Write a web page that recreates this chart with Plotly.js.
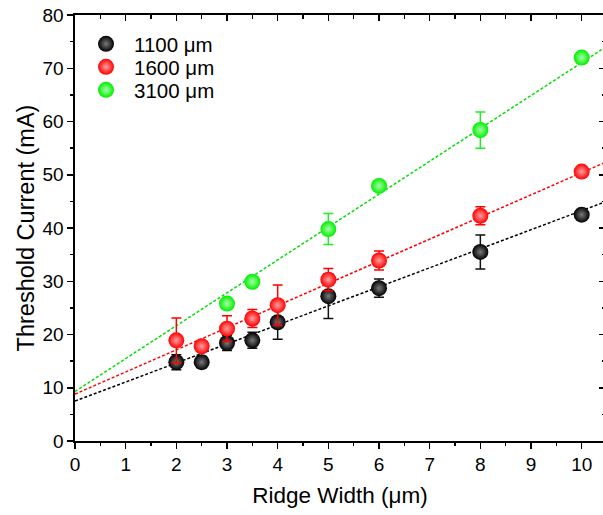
<!DOCTYPE html>
<html>
<head>
<meta charset="utf-8">
<script src="https://cdn.plot.ly/plotly-3.0.1.min.js"></script>
<style>
html,body{margin:0;padding:0;overflow:hidden;background:#fff;}
#chart{width:605px;height:515px;}
</style>
</head>
<body>
<div id="chart"></div>
<script>
// Ridge widths (µm)
const width1100 = [2, 2.5, 3, 3.5, 4, 5, 6, 8, 10];
const current1100 = [14.8, 14.8, 18.4, 18.9, 22.3, 27.2, 28.7, 35.5, 42.5];
const err1100 = [1.4, 1.1, 1.4, 1.5, 3.2, 4.2, 1.7, 3.2, 0.8];

const width1600 = [2, 2.5, 3, 3.5, 4, 5, 6, 8, 10];
const current1600 = [18.9, 17.8, 21.1, 23.0, 25.5, 30.3, 33.9, 42.3, 50.6];
const err1600 = [4.2, 0.8, 2.4, 1.7, 3.8, 2.1, 1.8, 1.7, 0.7];

const width3100 = [3, 3.5, 5, 6, 8, 10];
const current3100 = [25.8, 29.9, 39.8, 47.9, 58.4, 72.0];
const err3100 = [0.5, 0.4, 2.9, 0.4, 3.4, 0.4];

// Linear fit lines, read at the axis ends
const fitX = [0, 10.46];
const fit1100 = [7.5, 44.9];
const fit1600 = [8.8, 52.3];
const fit3100 = [9.3, 73.9];

const labels = ['1100 μm', '1600 μm', '3100 μm'];
const xTicks = [0,1,2,3,4,5,6,7,8,9,10];
const yTicks = [0,10,20,30,40,50,60,70,80];

const FONT = 'Liberation Sans, Arial, sans-serif';

function pts(x, y, e, name, col, grad, ecol, leg) {
  return {
    x: x, y: y, name: name, type: 'scatter', mode: 'markers', legend: leg,
    marker: {size: 16, color: col, line: {width: 0},
             gradient: {type: 'radial', color: grad}},
    error_y: {type: 'data', array: e, visible: true, color: ecol, thickness: 1.5, width: 5},
    showlegend: true
  };
}
function fit(y, col) {
  return {x: fitX, y: y, type: 'scatter', mode: 'lines', showlegend: false,
          line: {color: col, width: 1.5, dash: '3px,2px'}, hoverinfo: 'skip'};
}

const data = [
  fit(fit1100, '#000000'),
  fit(fit1600, '#ff0000'),
  fit(fit3100, '#00e000'),
  pts(width1100, current1100, err1100, labels[0], '#000000', '#7a7a7a', '#111111', 'legend'),
  pts(width1600, current1600, err1600, labels[1], '#ff0000', '#ffa0a0', '#ff0000', 'legend2'),
  pts(width3100, current3100, err3100, labels[2], '#00ee00', '#a8ffa8', '#22ee22', 'legend3')
];

const xRange = [0, 10.46];
const yRange = [0, 80];

function legendAt(yc) {
  return {x: 0.0057, y: yc, xanchor: 'left', yanchor: 'middle',
          font: {family: FONT, size: 20.5, color: '#000'},
          bgcolor: 'rgba(0,0,0,0)', borderwidth: 0, itemwidth: 46};
}

const layout = {
  width: 605, height: 515,
  margin: {l: 75, r: 0, t: 15, b: 74},
  paper_bgcolor: '#fff', plot_bgcolor: '#fff',
  font: {family: FONT, color: '#000', size: 19},
  showlegend: true,
  legend: legendAt(0.932),
  legend2: legendAt(0.878),
  legend3: legendAt(0.824),
  xaxis: {
    range: xRange, tickmode: 'array', tickvals: xTicks, ticktext: xTicks.map(String),
    showgrid: false, zeroline: false, showline: true, linecolor: '#000', linewidth: 1.6,
    ticks: 'outside', ticklen: 6, tickwidth: 1.5, tickcolor: '#000',
    minor: {ticks: 'outside', dtick: 0.5, tick0: 0, ticklen: 3.5, tickwidth: 1.5, tickcolor: '#000', showgrid: false},
    tickfont: {family: FONT, size: 19},
    title: {text: 'Ridge Width (μm)', font: {family: FONT, size: 22.5}, standoff: 13}
  },
  yaxis: {
    range: yRange, tickmode: 'array', tickvals: yTicks, ticktext: yTicks.map(String),
    showgrid: false, zeroline: false, showline: true, linecolor: '#000', linewidth: 1.6,
    ticks: 'outside', ticklen: 6, tickwidth: 1.5, tickcolor: '#000', ticklabelstandoff: -4.5,
    minor: {ticks: 'outside', dtick: 5, tick0: 0, ticklen: 3.5, tickwidth: 1.5, tickcolor: '#000', showgrid: false},
    tickfont: {family: FONT, size: 19},
    title: {text: 'Threshold Current (mA)', font: {family: FONT, size: 23.5}, standoff: 1}
  },
  xaxis2: {
    overlaying: 'x', side: 'top', anchor: 'y', range: xRange,
    tickmode: 'array', tickvals: xTicks, showticklabels: false,
    showgrid: false, zeroline: false, showline: true, linecolor: '#000', linewidth: 1.6,
    ticks: 'inside', ticklen: 6, tickwidth: 1.5, tickcolor: '#000',
    minor: {ticks: 'inside', dtick: 0.5, tick0: 0, ticklen: 3.5, tickwidth: 1.5, tickcolor: '#000'}
  },
  yaxis2: {
    overlaying: 'y', side: 'right', anchor: 'x', range: yRange,
    tickmode: 'array', tickvals: yTicks, showticklabels: false,
    showgrid: false, zeroline: false, showline: true, linecolor: '#000', linewidth: 1.6,
    ticks: 'inside', ticklen: 6, tickwidth: 1.5, tickcolor: '#000',
    minor: {ticks: 'inside', dtick: 5, tick0: 0, ticklen: 3.5, tickwidth: 1.5, tickcolor: '#000'}
  }
};

// invisible trace to activate the mirror axes
data.push({x: [0], y: [0], xaxis: 'x2', yaxis: 'y2', type: 'scatter', mode: 'markers',
           marker: {opacity: 0}, showlegend: false, hoverinfo: 'skip'});

Plotly.newPlot('chart', data, layout, {staticPlot: true, displayModeBar: false});
</script>
</body>
</html>
